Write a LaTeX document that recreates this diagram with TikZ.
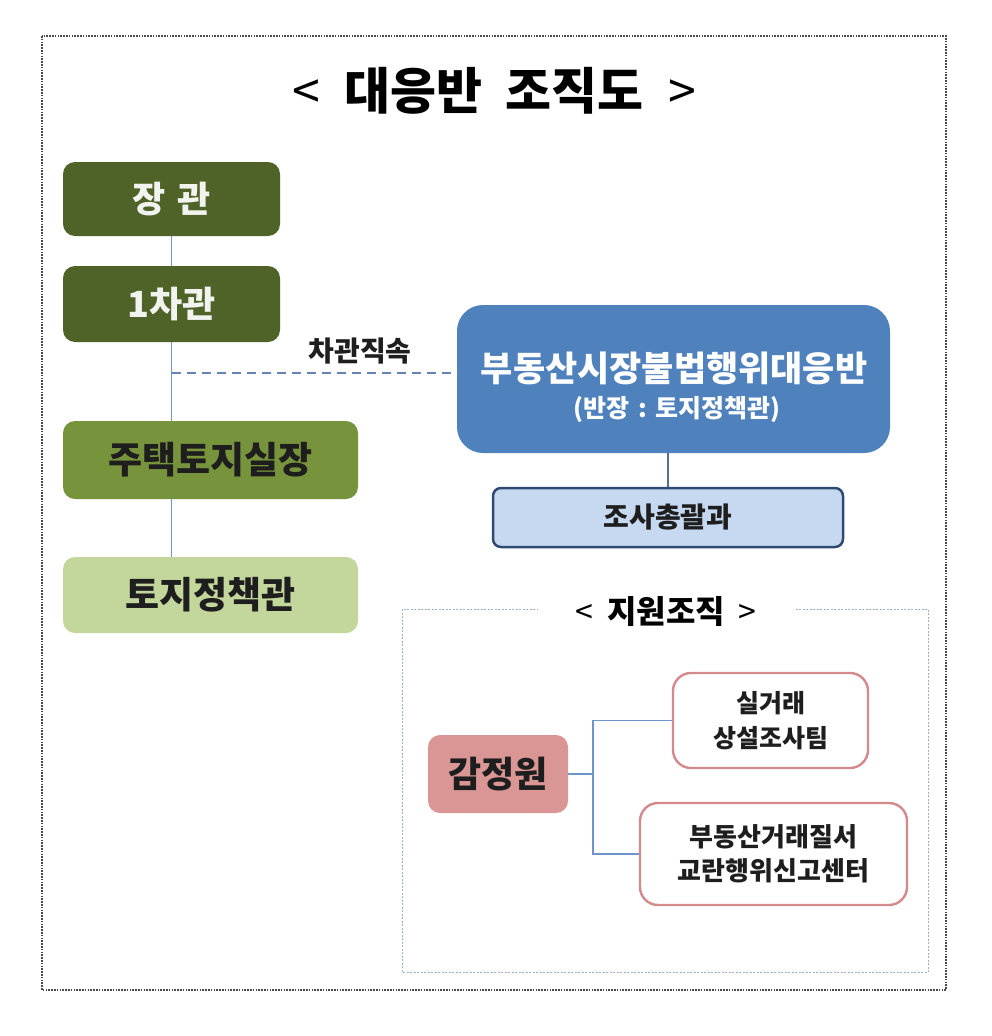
\documentclass[tikz,border=0pt]{standalone}
\usepackage{fontspec}
\setmainfont{Noto Sans CJK KR}
\definecolor{dkgreen}{HTML}{4F6228}
\definecolor{mdgreen}{HTML}{77933C}
\definecolor{ltgreen}{HTML}{C3D69B}
\definecolor{mainblue}{HTML}{4F81BD}
\definecolor{paleblue}{HTML}{C6D9F1}
\definecolor{navyline}{HTML}{2E4A70}
\definecolor{rosefill}{HTML}{D99694}
\definecolor{roseline}{HTML}{D48A8C}
\definecolor{connblue}{HTML}{6F93CC}
\definecolor{framegray}{HTML}{4A4A4A}
\definecolor{framblue}{HTML}{9AB0CC}
\definecolor{darktext}{HTML}{1E1E1E}
\tikzset{
  orgbox/.style={rounded corners=12pt, inner sep=0pt, align=center, font=\bfseries},
  conn/.style={draw=connblue, line width=1.3pt},
  dashconn/.style={draw=connblue!90!black, line width=1.6pt, dash pattern=on 9pt off 6pt},
  txt/.style={inner sep=0pt, font=\bfseries}
}
\begin{document}
\begin{tikzpicture}[x=1pt,y=-1pt]
\useasboundingbox (0,0) rectangle (992,1036);
% outer frame
\draw[framegray, line width=2.4pt, dash pattern=on 1.6pt off 1.2pt] (42,36) rectangle (946,990);
% title
\node[txt] (title) at (494,91) {\fontsize{50}{56}\selectfont{\mdseries<}\hspace{24pt}대응반\hspace{24pt}조직도\hspace{24pt}{\mdseries>}};
% left column
\node[orgbox, fill=dkgreen, text=white!92!dkgreen, minimum width=217pt, minimum height=74pt, font=\bfseries\fontsize{36}{42}\selectfont] (jang) at (171.5,199) {장\hspace{12pt}관};
\node[orgbox, fill=dkgreen, text=white!92!dkgreen, minimum width=217pt, minimum height=76pt, font=\bfseries\fontsize{36}{42}\selectfont] (cha) at (171.5,304) {1차관};
\node[orgbox, fill=mdgreen, text=darktext, minimum width=295pt, minimum height=78pt, font=\bfseries\fontsize{37}{42}\selectfont] (jutaek) at (210.5,460) {주택토지실장};
\node[orgbox, fill=ltgreen, text=darktext, minimum width=295pt, minimum height=76pt, font=\bfseries\fontsize{37}{42}\selectfont] (tojip) at (210.5,595) {토지정책관};
\draw[conn] (jang.south) -- (cha.north);
\draw[conn] (cha.south) -- (cha.south |- jutaek.north);
\draw[conn] (cha.south |- jutaek.south) -- (cha.south |- tojip.north);
% blue box
\node[orgbox, rounded corners=26pt, fill=mainblue, minimum width=433pt, minimum height=148pt] (blue) at (673.5,379) {};
\node[txt, text=white] (bluet) at (674,368) {\fontsize{35}{40}\selectfont 부동산시장불법행위대응반};
\node[txt, text=white] (blues) at (677,410) {\fontsize{25}{30}\selectfont (반장\hspace{9pt}:\hspace{9pt}토지정책관)};
\coordinate (d) at (171.5,373);
\draw[dashconn] (d) -- (d -| blue.west);
\node[txt, text=darktext] (chalbl) at (360,351) {\fontsize{28}{32}\selectfont 차관직속};
% survey division
\node[orgbox, rounded corners=8pt, fill=paleblue, draw=navyline, line width=2.5pt, text=darktext, minimum width=350pt, minimum height=59pt, font=\bfseries\fontsize{28}{32}\selectfont] (jo) at (668,517.5) {조사총괄과};
\draw[conn, draw=navyline!80] (jo.north) -- (jo.north |- blue.south);
% support frame
\draw[framblue, line width=1pt, dash pattern=on 2pt off 1.5pt] (402,609) rectangle (928,972);
\node[txt, fill=white, minimum width=257pt, minimum height=34pt] (suptitle) at (666,612) {\fontsize{32}{36}\selectfont{\mdseries<}\hspace{14pt}지원조직\hspace{14pt}{\mdseries>}};
% support boxes
\node[orgbox, fill=rosefill, text=darktext, minimum width=140pt, minimum height=78pt, font=\bfseries\fontsize{36}{40}\selectfont] (gam) at (498,774) {감정원};
\node[orgbox, rounded corners=18pt, fill=white, draw=roseline, line width=2.4pt, text=darktext, minimum width=195pt, minimum height=95pt, font=\bfseries\fontsize{25}{35}\selectfont] (sil) at (770.5,720.5) {실거래\\상설조사팀};
\node[orgbox, rounded corners=18pt, fill=white, draw=roseline, line width=2.4pt, text=darktext, minimum width=267pt, minimum height=102pt, font=\bfseries\fontsize{26}{34}\selectfont] (cen) at (773.5,854) {부동산거래질서\\교란행위신고센터};
\coordinate (j) at (593,774);
\draw[conn] (gam.east) -- (j);
\draw[conn] (sil.west) -| (j);
\draw[conn] (cen.west) -| (j);
\end{tikzpicture}
\end{document}
